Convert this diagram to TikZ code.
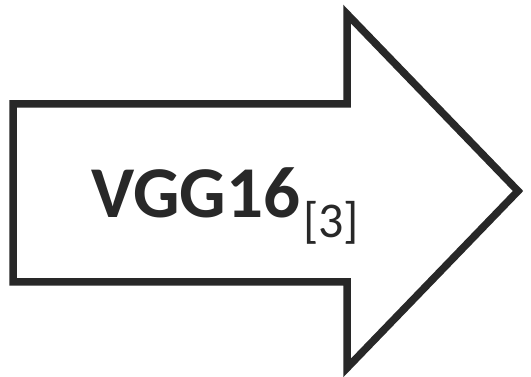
\documentclass[tikz,border=0pt]{standalone}
\usepackage{fontspec}
\setmainfont{Carlito}
\definecolor{ink}{HTML}{282828}
\begin{document}
\begin{tikzpicture}[x=1pt,y=1pt,
  outline/.style={draw=ink,line width=7.5pt,fill=white,line join=miter},
  lbl/.style={anchor=base west,inner sep=0pt,text=ink}]
\useasboundingbox (0,0) rectangle (531,377);
\draw[outline] (13,273) -- (347,273) -- (347,363) -- (518,186) -- (347,9) -- (347,95) -- (13,95) -- cycle;
\node[lbl] (main) at (91,159) {\fontsize{73}{73}\selectfont\bfseries VGG16};
\node[lbl] (sub) at (303,139) {\fontsize{50}{50}\selectfont [3]};
\end{tikzpicture}
\end{document}
